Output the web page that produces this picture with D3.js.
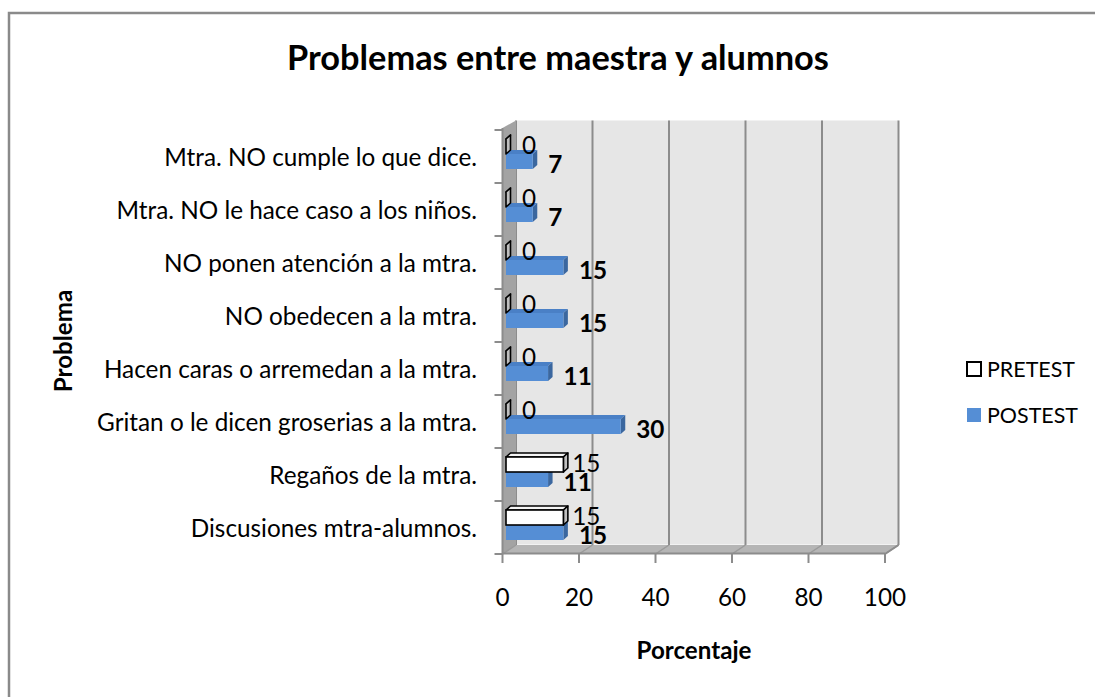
<!DOCTYPE html>
<html><head><meta charset="utf-8">
<script src="https://cdn.jsdelivr.net/npm/d3@7"></script>
<style>
html,body{margin:0;padding:0;background:#fff;}
text{font-family:Lato,"Open Sans",sans-serif;fill:#000;}
</style></head>
<body>
<svg id="chart" width="1095" height="697"></svg>
<script>
// ---- data ----
const title = "Problemas entre maestra y alumnos";
const categories = [
  "Mtra. NO cumple lo que dice.",
  "Mtra. NO le hace caso a los niños.",
  "NO ponen atención a la mtra.",
  "NO obedecen a la mtra.",
  "Hacen caras o arremedan a la mtra.",
  "Gritan o le dicen groserias a la mtra.",
  "Regaños de la mtra.",
  "Discusiones mtra-alumnos."
];
const seriesNames = ["PRETEST", "POSTEST"];
const pretest  = [0, 0, 0, 0, 0, 0, 15, 15];
const postest  = [7, 7, 15, 15, 11, 30, 11, 15];
const xTicks = [0, 20, 40, 60, 80, 100];
const xTitle = "Porcentaje";
const yTitle = "Problema";

// ---- layout ----
const svg = d3.select("#chart");
const W = 1095, H = 697;
const DX = 13.5, DY = -9;          // wall depth
const BDX = 4.5, BDY = -4;         // bar depth
const barShift = 3.5;              // bar front offset from axis
const x = d3.scaleLinear().domain([0, 100]).range([502.5, 885]);
const y = d3.scaleBand().domain(categories).range([130, 554]);
const ySub = d3.scaleBand().domain(seriesNames).range([-17.5, 12.5]);
const colors = {PRETEST: {front: "#ffffff", top: "#f4f4f4", side: "#bfbfbf", stroke: "#000"},
                POSTEST: {front: "#558ed5", top: "#4a80c6", side: "#3b679f", stroke: "none"}};

// outer border
svg.append("rect").attr("x", 9).attr("y", 13).attr("width", W).attr("height", H)
  .attr("fill", "#fff").attr("stroke", "#8a8a8a").attr("stroke-width", 2.5);

const x0 = x(0), x1 = x(100), yTop = y.range()[0], yBot = y.range()[1];

// back wall
svg.append("rect").attr("x", x0 + DX).attr("y", yTop + DY - 0.5)
  .attr("width", x1 - x0).attr("height", yBot - yTop)
  .attr("fill", "#e6e6e6");
// back gridlines
svg.append("g").selectAll("line").data(xTicks).join("line")
  .attr("x1", d => x(d) + DX).attr("x2", d => x(d) + DX)
  .attr("y1", yTop + DY - 0.5).attr("y2", yBot + DY)
  .attr("stroke", "#8c8c8c").attr("stroke-width", 2);

// left wall
svg.append("path")
  .attr("d", `M${x0},${yTop - 2}L${x0 + DX},${yTop + DY - 0.5}L${x0 + DX},${yBot + DY}L${x0},${yBot}Z`)
  .attr("fill", "#a3a3a3");
// floor
svg.append("path")
  .attr("d", `M${x0},${yBot}L${x0 + DX},${yBot + DY}L${x1 + DX},${yBot + DY}L${x1},${yBot}Z`)
  .attr("fill", "#b5b5b5");
svg.append("g").selectAll("line").data(xTicks).join("line")
  .attr("x1", d => x(d)).attr("x2", d => x(d) + DX)
  .attr("y1", yBot).attr("y2", yBot + DY)
  .attr("stroke", "#9a9a9a").attr("stroke-width", 1.5);
svg.append("line").attr("x1", x0).attr("x2", x1).attr("y1", yBot - 0.5).attr("y2", yBot - 0.5)
  .attr("stroke", "#8c8c8c").attr("stroke-width", 2);
svg.append("line").attr("x1", x1).attr("x2", x1 + DX).attr("y1", yBot).attr("y2", yBot + DY)
  .attr("stroke", "#8c8c8c").attr("stroke-width", 2);
svg.append("line").attr("x1", x0).attr("x2", x0).attr("y1", yTop - 2).attr("y2", yBot)
  .attr("stroke", "#8c8c8c").attr("stroke-width", 2);

// x axis ticks (front)
svg.append("g").selectAll("line").data(xTicks).join("line")
  .attr("x1", d => x(d)).attr("x2", d => x(d))
  .attr("y1", yBot).attr("y2", yBot + 9)
  .attr("stroke", "#8c8c8c").attr("stroke-width", 2);
svg.append("g").selectAll("text").data(xTicks).join("text")
  .attr("x", d => x(d)).attr("y", 596)
  .attr("text-anchor", "middle").attr("dominant-baseline", "central")
  .attr("class", "lbl").text(d => d);

// y axis ticks (category boundaries)
const bounds = d3.range(categories.length + 1).map(i => yTop + i * y.step());
svg.append("g").selectAll("line").data(bounds).join("line")
  .attr("x1", x0 - 8).attr("x2", x0).attr("y1", d => d).attr("y2", d => d)
  .attr("stroke", "#8c8c8c").attr("stroke-width", 2);

// category labels
svg.append("g").selectAll("text").data(categories).join("text")
  .attr("x", 477).attr("y", d => y(d) + y.bandwidth() / 2)
  .attr("text-anchor", "end").attr("dominant-baseline", "central")
  .attr("class", "lbl").text(d => d);

// bars
const rows = categories.map((c, i) => ({cat: c, PRETEST: pretest[i], POSTEST: postest[i]}));
function bar3d(g, cat, s, v) {
  const c = y(cat) + y.bandwidth() / 2;
  const bx0 = x0 + barShift, bx1 = x(v) + barShift;
  const by0 = c + ySub(s), by1 = by0 + ySub.bandwidth();
  const col = colors[s];
  const sw = col.stroke === "none" ? 0 : 1.6;
  g.append("path")
    .attr("d", `M${bx0},${by0}L${bx0 + BDX},${by0 + BDY}L${bx1 + BDX},${by0 + BDY}L${bx1},${by0}Z`)
    .attr("fill", col.top).attr("stroke", col.stroke).attr("stroke-width", sw).attr("stroke-linejoin", "round");
  g.append("path")
    .attr("d", `M${bx1},${by0}L${bx1 + BDX},${by0 + BDY}L${bx1 + BDX},${by1 + BDY}L${bx1},${by1}Z`)
    .attr("fill", col.side).attr("stroke", col.stroke).attr("stroke-width", sw).attr("stroke-linejoin", "round");
  if (v > 0) {
    g.append("rect").attr("x", bx0).attr("y", by0).attr("width", bx1 - bx0).attr("height", by1 - by0)
      .attr("fill", col.front).attr("stroke", col.stroke).attr("stroke-width", sw);
  }
}
const barsG = svg.append("g");
rows.forEach(r => {
  bar3d(barsG, r.cat, "POSTEST", r.POSTEST);
  bar3d(barsG, r.cat, "PRETEST", r.PRETEST);
});

// data labels
svg.append("g").selectAll("text").data(rows).join("text")
  .attr("x", d => x(d.PRETEST) + barShift + BDX + 18.5)
  .attr("y", d => y(d.cat) + y.bandwidth() / 2 - 12)
  .attr("text-anchor", "middle").attr("dominant-baseline", "central")
  .attr("class", "lbl").text(d => d.PRETEST);
svg.append("g").selectAll("text").data(rows).join("text")
  .attr("x", d => x(d.POSTEST) + barShift + BDX + 11)
  .attr("y", d => y(d.cat) + y.bandwidth() / 2 + 7)
  .attr("text-anchor", "start").attr("dominant-baseline", "central")
  .attr("class", "lbl").attr("font-weight", "bold").text(d => d.POSTEST);

// titles
svg.append("text").attr("id", "ttl").attr("x", 558).attr("y", 56).attr("text-anchor", "middle")
  .attr("dominant-baseline", "central").attr("font-weight", "bold").attr("font-size", 30)
  .text(title);
svg.append("text").attr("class", "axt").attr("x", 694).attr("y", 649).attr("text-anchor", "middle")
  .attr("dominant-baseline", "central").attr("font-weight", "bold").attr("font-size", 17)
  .text(xTitle);
svg.append("text").attr("class", "axt").attr("transform", "translate(62,341) rotate(-90)").attr("text-anchor", "middle")
  .attr("dominant-baseline", "central").attr("font-weight", "bold").attr("font-size", 17)
  .text(yTitle);

// legend
const leg = svg.append("g").selectAll("g").data(seriesNames).join("g")
  .attr("transform", (d, i) => `translate(967,${369 + i * 46})`);
leg.append("rect").attr("x", 0).attr("y", -7).attr("width", 14).attr("height", 14)
  .attr("fill", d => colors[d].front)
  .attr("stroke", d => d === "PRETEST" ? "#000" : "none").attr("stroke-width", 2);
leg.append("text").attr("class", "legt").attr("x", 20).attr("y", 0).attr("dominant-baseline", "central")
  .text(d => d);

// fit font sizes to the reference text widths
function fitSize(sample, target, weight) {
  const t = svg.append("text").attr("font-size", 20).attr("font-weight", weight).text(sample);
  const w = t.node().getComputedTextLength(); t.remove();
  return 20 * target / w;
}
svg.selectAll(".lbl").attr("font-size", fitSize("Gritan o le dicen groserias a la mtra.", 380, "normal"));
svg.select("#ttl").attr("font-size", fitSize(title, 542, "bold"));
svg.selectAll(".axt").attr("font-size", fitSize(xTitle, 115, "bold"));
svg.selectAll(".legt").attr("font-size", fitSize("PRETEST", 88, "normal"));
</script>
</body></html>
